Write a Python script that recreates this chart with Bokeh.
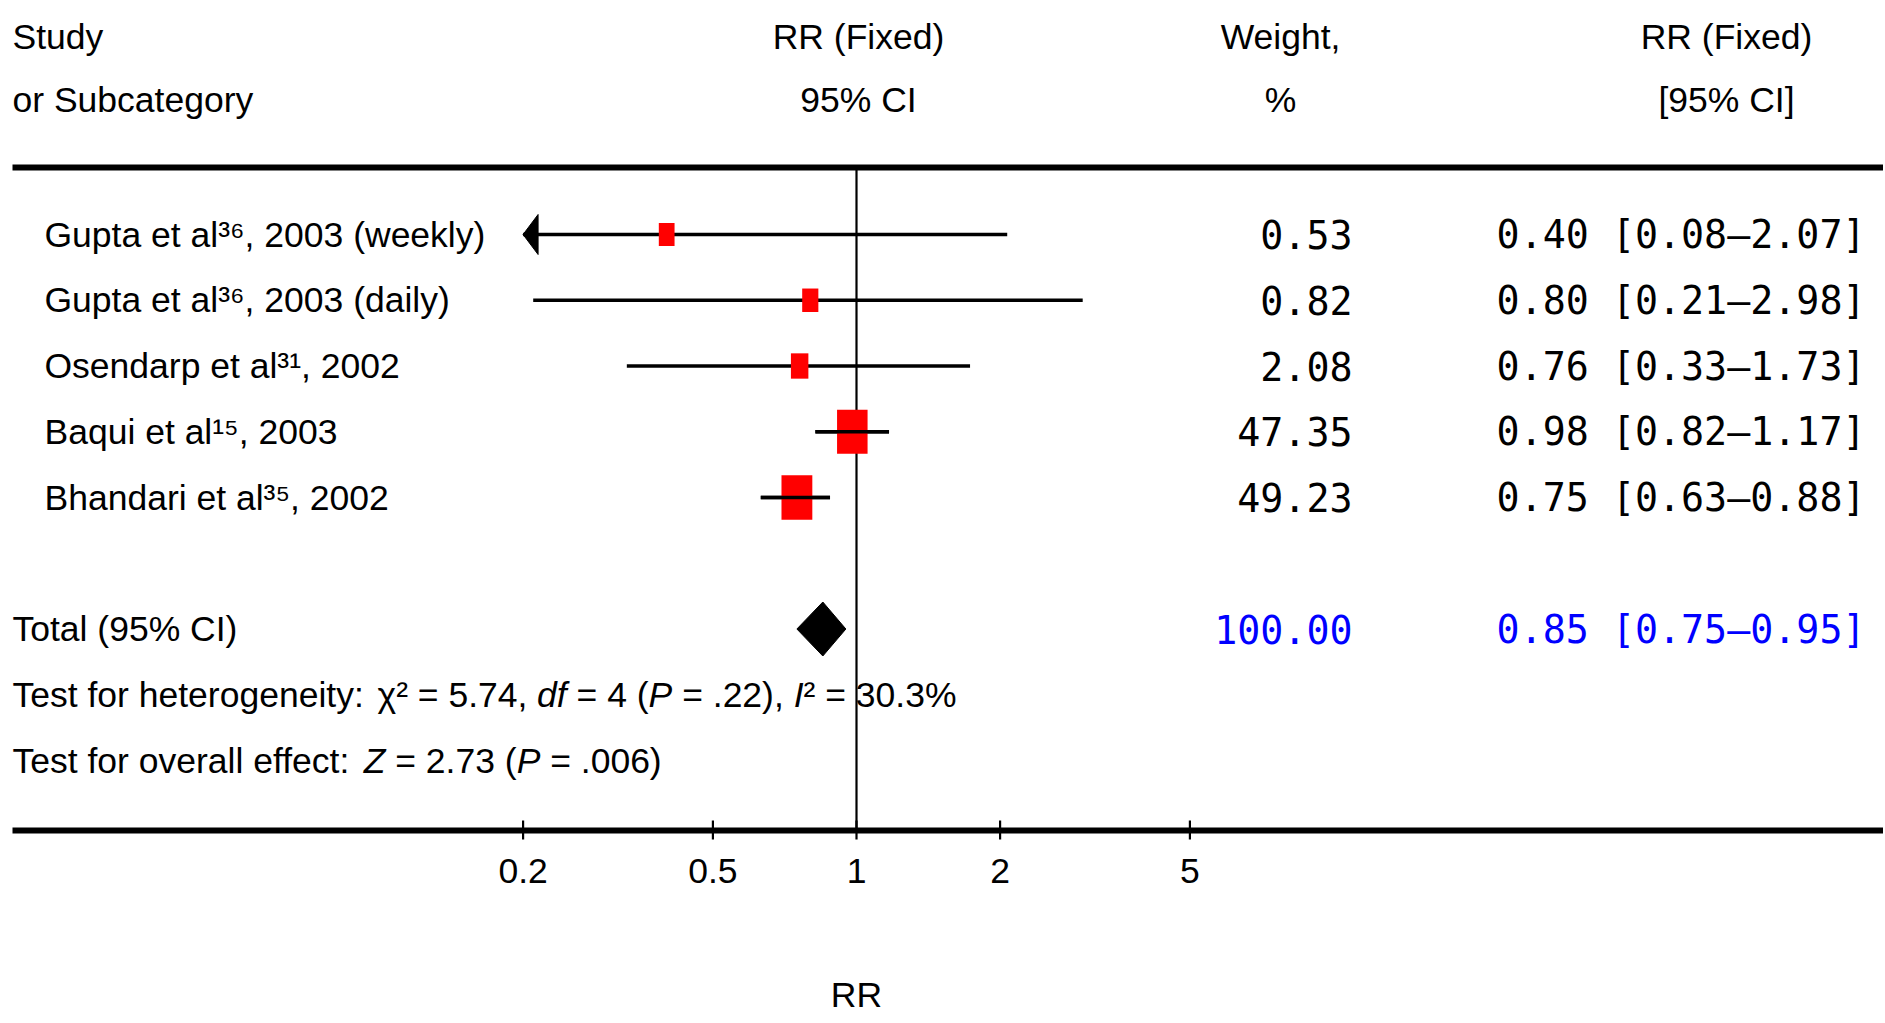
import math
from bokeh.plotting import figure
from bokeh.models import Range1d, LinearScale, ColumnDataSource
from bokeh.embed import file_html
from bokeh.resources import INLINE
from bokeh.core.properties import value

# ---------------- data ----------------
studies = [
    "Gupta et al\u00b3\u2076, 2003 (weekly)",
    "Gupta et al\u00b3\u2076, 2003 (daily)",
    "Osendarp et al\u00b3\u00b9, 2002",
    "Baqui et al\u00b9\u2075, 2003",
    "Bhandari et al\u00b3\u2075, 2002",
]
rr = [0.40, 0.80, 0.76, 0.98, 0.75]
ci_low = [0.08, 0.21, 0.33, 0.82, 0.63]
ci_high = [2.07, 2.98, 1.73, 1.17, 0.88]
weights = [0.53, 0.82, 2.08, 47.35, 49.23]

total_label = "Total (95% CI)"
total_rr = 0.85
total_low = 0.75
total_high = 0.95
total_weight = 100.00

# (text, italic?) segments
heterogeneity = [("Test for heterogeneity: ", False), ("\u03c7\u00b2 = 5.74, ", False), ("df ", True),
                 ("= 4 (", False), ("P ", True), ("= .22), ", False), ("I", True), ("\u00b2 = 30.3%", False)]
overall = [("Test for overall effect: ", False), ("Z ", True), ("= 2.73 (", False), ("P ", True),
           ("= .006)", False)]

axis_ticks = [0.2, 0.5, 1, 2, 5]
tick_labels = ["0.2", "0.5", "1", "2", "5"]
axis_title = "RR"

hdr_study = ["Study", "or Subcategory"]
hdr_plot = ["RR (Fixed)", "95% CI"]
hdr_weight = ["Weight,", "%"]
hdr_ci = ["RR (Fixed)", "[95% CI]"]

# ---------------- layout ----------------
W, H = 1883, 1021
X_ONE = 856.0          # pixel of RR = 1
PX_DEC = 477.0         # pixels per decade
ROW0 = 168.25          # pixel of row 0
ROW_H = 65.75          # pixels per row
SANS = "Liberation Sans"
MONO = "DejaVu Sans Mono"
FS = 35.5
MFS = 38.3
BLUE = "#0000ff"

p = figure(width=W, height=H, x_axis_type="log",
           x_range=Range1d(10 ** (-X_ONE / PX_DEC), 10 ** ((W - X_ONE) / PX_DEC)),
           y_range=Range1d(start=(H - ROW0) / ROW_H, end=-ROW0 / ROW_H),
           x_axis_location=None, y_axis_location=None,
           output_backend="svg", toolbar_location=None, min_border=0,
           outline_line_color=None, background_fill_color="white", border_fill_color="white")
p.grid.grid_line_color = None
p.extra_x_ranges = {"px": Range1d(0, W)}
p.extra_x_scales = {"px": LinearScale()}
p.extra_y_ranges = {"py": Range1d(start=H, end=0)}
p.extra_y_scales = {"py": LinearScale()}

TOP_RULE = 167
AXIS_Y = 830

rows = list(range(1, len(studies) + 1))
total_row = len(studies) + 2

# rules
p.segment(x0=[12, 12], x1=[W, W], y0=[TOP_RULE, AXIS_Y], y1=[TOP_RULE, AXIS_Y],
          line_width=6, line_color="black", x_range_name="px", y_range_name="py")
# line of no effect
p.segment(x0=[1], x1=[1], y0=[TOP_RULE], y1=[AXIS_Y], line_width=2.2, line_color="black", y_range_name="py")
# ticks
p.segment(x0=axis_ticks, x1=axis_ticks, y0=[AXIS_Y - 10] * len(axis_ticks), y1=[AXIS_Y + 9] * len(axis_ticks),
          line_width=2.2, line_color="black", y_range_name="py")
p.text(x=axis_ticks, y=[AXIS_Y + 40] * len(axis_ticks), text=tick_labels, text_align="center",
       text_baseline="middle", text_font=value(SANS), text_font_size=f"{FS}px", y_range_name="py")
p.text(x=[1], y=[994], text=[axis_title], text_align="center", text_baseline="middle",
       text_font=value(SANS), text_font_size=f"{FS}px", y_range_name="py")

# CI lines (clipped at axis minimum/maximum)
xmin, xmax = axis_ticks[0], axis_ticks[-1] * 2
lo_d = [max(l, xmin) for l in ci_low]
hi_d = [min(h, xmax) for h in ci_high]
p.segment(x0=lo_d, x1=hi_d, y0=rows, y1=rows, line_width=3.6, line_color="black")

# arrows for clipped lower limits
ARROW_LEN, ARROW_HALF = 15.0, 20.0
axs, ays = [], []
for l, r in zip(ci_low, rows):
    if l < xmin:
        xb = xmin * 10 ** (ARROW_LEN / PX_DEC)
        dy = ARROW_HALF / ROW_H
        axs.append([xmin, xb, xb])
        ays.append([r, r - dy, r + dy])
if axs:
    p.patches(xs=axs, ys=ays, fill_color="black", line_color="black", line_width=1)

# weight-scaled boxes
bw = [14 + 2.4 * math.sqrt(w) for w in weights]
bh = [1.45 * b for b in bw]
src = ColumnDataSource(dict(x=rr, y=rows, w=bw, h=bh))
p.rect(x="x", y="y", width="w", height="h", width_units="screen", height_units="screen",
       source=src, fill_color="#ff0000", line_color=None)
# CI line redrawn across the heavy boxes
heavy = [i for i, w in enumerate(weights) if w >= 10]
p.segment(x0=[lo_d[i] for i in heavy], x1=[hi_d[i] for i in heavy], y0=[rows[i] for i in heavy],
          y1=[rows[i] for i in heavy], line_width=3.6, line_color="black")

# pooled diamond
DH = 27.0 / ROW_H
p.patch(x=[total_low, total_rr, total_high, total_rr],
        y=[total_row, total_row - DH, total_row, total_row + DH],
        fill_color="black", line_color="black")

# study labels and numbers
p.text(x=[44] * len(studies), y=rows, text=studies, text_align="left", text_baseline="middle",
       text_font=value(SANS), text_font_size=f"{FS}px", x_range_name="px")
p.text(x=[1352] * len(studies), y=rows, text=[f"{w:.2f}" for w in weights], text_align="right",
       text_baseline="middle", text_font=value(MONO), text_font_size=f"{MFS}px", x_range_name="px")
p.text(x=[1865] * len(studies), y=rows,
       text=[f"{a:.2f} [{b:.2f}\u2013{c:.2f}]" for a, b, c in zip(rr, ci_low, ci_high)],
       text_align="right", text_baseline="middle", text_font=value(MONO), text_font_size=f"{MFS}px",
       x_range_name="px")

# total row
p.text(x=[12], y=[total_row], text=[total_label], text_baseline="middle", text_font=value(SANS),
       text_font_size=f"{FS}px", x_range_name="px")
p.text(x=[1352], y=[total_row], text=[f"{total_weight:.2f}"], text_align="right", text_baseline="middle",
       text_font=value(MONO), text_font_size=f"{MFS}px", text_color=BLUE, x_range_name="px")
p.text(x=[1865], y=[total_row], text=[f"{total_rr:.2f} [{total_low:.2f}\u2013{total_high:.2f}]"],
       text_align="right", text_baseline="middle", text_font=value(MONO), text_font_size=f"{MFS}px",
       text_color=BLUE, x_range_name="px")

# Arial-metric advance widths (1/1000 em) for placing mixed-style segments
ADV = {" ": 278, "(": 333, ")": 333, ",": 278, ".": 278, "=": 584, "%": 889, ":": 278,
       "\u00b2": 333, "\u03c7": 520, "T": 611, "P": 667, "I": 278, "Z": 611,
       "e": 556, "s": 500, "t": 278, "f": 278, "o": 556, "r": 333, "h": 556, "g": 556, "n": 556,
       "i": 222, "y": 500, "d": 556, "v": 500, "a": 556, "l": 222, "c": 500}


def adv(s):
    return sum(ADV.get(ch, 556) for ch in s) * FS / 1000.0


def draw_segments(segs, row, x_start=12):
    x = x_start
    for txt, ital in segs:
        p.text(x=[x], y=[row], text=[txt], text_baseline="middle", text_font=value(SANS),
               text_font_size=f"{FS}px", text_font_style="italic" if ital else "normal",
               x_range_name="px")
        x += adv(txt)


draw_segments(heterogeneity, total_row + 1)
draw_segments(overall, total_row + 2)


# headers
def header(lines, x, align):
    p.text(x=[x, x], y=[36, 99], text=lines, text_align=align, text_baseline="middle",
           text_font=value(SANS), text_font_size=f"{FS}px", x_range_name="px", y_range_name="py")


header(hdr_study, 12, "left")
header(hdr_plot, 858, "center")
header(hdr_weight, 1280, "center")
header(hdr_ci, 1726, "center")

open("out.html", "w").write(file_html(p, INLINE))
